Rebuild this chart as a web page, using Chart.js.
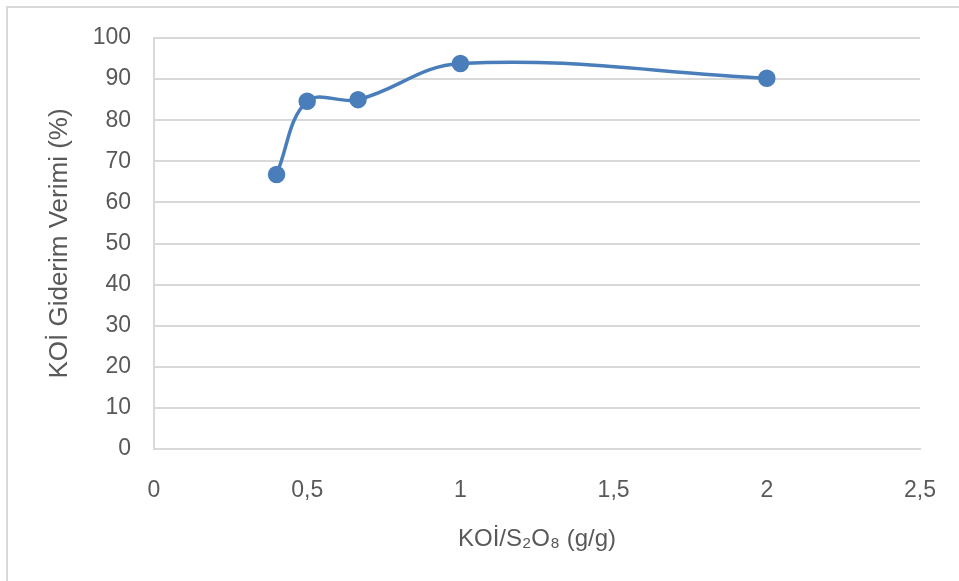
<!DOCTYPE html>
<html>
<head>
<meta charset="utf-8">
<script src="https://cdn.jsdelivr.net/npm/chart.js@4"></script>
<style>
  html, body { margin: 0; padding: 0; background: #fff; }
  #wrap { position: relative; width: 959px; height: 581px; overflow: hidden; }
  #frame {
    position: absolute; left: 6px; top: 6px; width: 1000px; height: 700px;
    border-left: 2px solid #d9d9d9; border-top: 2px solid #d9d9d9;
  }
  canvas { position: absolute; left: 0; top: 0; }
</style>
</head>
<body>
<div id="wrap">
  <div id="frame"></div>
  <canvas id="chart" width="959" height="581"></canvas>
</div>
<script>
// Data
const ratios = [0.4, 0.5, 0.666, 1, 2];
const removal = [66.8, 84.6, 85.0, 93.8, 90.2];
const yTicks = [0, 10, 20, 30, 40, 50, 60, 70, 80, 90, 100];
const xTicks = [0, 0.5, 1, 1.5, 2, 2.5];

const points = ratios.map((x, i) => ({ x: x, y: removal[i] }));
const blue = "#4a7ebb";
const fontFam = "'Liberation Sans', Arial, sans-serif";

const ctx = document.getElementById("chart").getContext("2d");
const chart = new Chart(ctx, {
  type: "scatter",
  data: {
    datasets: [
      {
        data: points,
        showLine: true,
        tension: 0.38,
        borderColor: blue,
        borderWidth: 3.5,
        backgroundColor: blue,
        pointRadius: 7,
        pointHoverRadius: 7,
      },
    ],
  },
  options: {
    responsive: false,
    animation: false,
    layout: { padding: { top: 38, right: 39, left: 0, bottom: 0 } },
    plugins: { legend: { display: false }, tooltip: { enabled: false } },
    scales: {
      x: {
        type: "linear",
        min: 0,
        max: 2.5,
        afterBuildTicks: (s) => { s.ticks = xTicks.map((v) => ({ value: v })); },
        afterFit: (s) => {
          s.height = 132;
          s.paddingLeft = 0;
          s.paddingRight = 0;
        },
        grid: { display: false, drawTicks: false },
        border: { color: "#d9d9d9", width: 2 },
        ticks: {
          padding: 28,
          color: "#595959",
          font: { family: fontFam, size: 23 },
          maxRotation: 0,
          callback: (v) => String(v).replace(".", ","),
        },
        title: {
          display: true,
          text: "KOİ/S₂O₈ (g/g)",
          color: "#595959",
          font: { family: fontFam, size: 24 },
          padding: { top: 0, bottom: 27 },
        },
      },
      y: {
        min: 0,
        max: 100,
        afterBuildTicks: (s) => { s.ticks = yTicks.map((v) => ({ value: v })); },
        afterFit: (s) => { s.width = 154; },
        grid: { color: "#d9d9d9", lineWidth: 2, drawTicks: false },
        border: { color: "#d9d9d9", width: 2 },
        ticks: {
          padding: 23,
          color: "#595959",
          font: { family: fontFam, size: 23 },
        },
        title: {
          display: true,
          text: "KOİ Giderim Verimi (%)",
          color: "#595959",
          font: { family: fontFam, size: 26 },
          padding: { top: 44, bottom: 0 },
        },
      },
    },
  },
});
</script>
</body>
</html>
